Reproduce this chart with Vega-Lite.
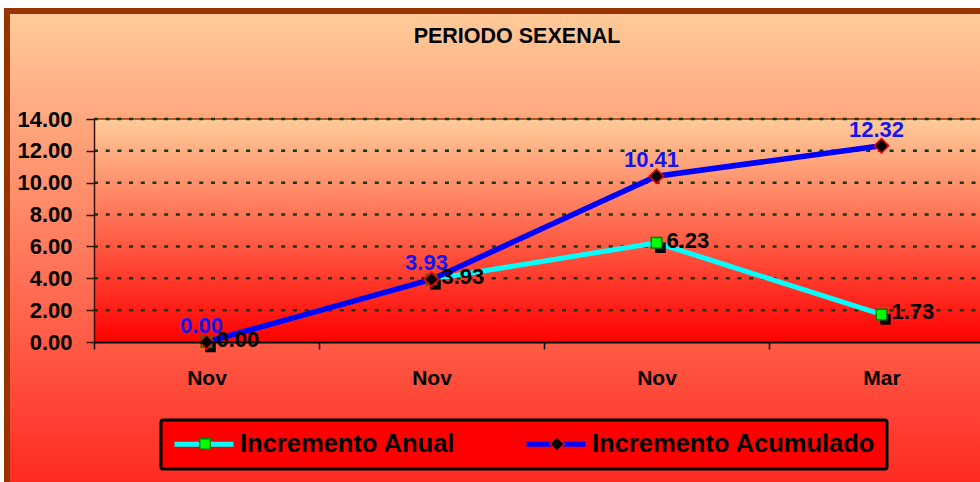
{
  "$schema": "https://vega.github.io/schema/vega-lite/v6.json",
  "width": 1020,
  "height": 480,
  "autosize": {"type": "none"},
  "padding": {"left": 7, "top": 11, "right": 0, "bottom": 0},
  "background": "#FFFFFF",
  "view": {
    "fill": {"gradient": "linear", "x1": 0, "y1": 0, "x2": 0, "y2": 1,
      "stops": [{"offset": 0, "color": "#FFCC99"}, {"offset": 1, "color": "#FF2820"}]},
    "stroke": "#993300",
    "strokeWidth": 6
  },
  "config": {"font": "Liberation Sans"},
  "title": {
    "text": "PERIODO SEXENAL",
    "font": "Liberation Sans",
    "fontSize": 21.5,
    "fontWeight": "bold",
    "color": "#000000",
    "anchor": "middle",
    "frame": "group",
    "baseline": "alphabetic",
    "offset": -53
  },
  "datasets": {
    "incrementos": [
      {"periodo": "Nov-1", "serie": "Incremento Anual", "valor": 0.00},
      {"periodo": "Nov-2", "serie": "Incremento Anual", "valor": 3.93},
      {"periodo": "Nov-3", "serie": "Incremento Anual", "valor": 6.23},
      {"periodo": "Mar-4", "serie": "Incremento Anual", "valor": 1.73},
      {"periodo": "Nov-1", "serie": "Incremento Acumulado", "valor": 0.00},
      {"periodo": "Nov-2", "serie": "Incremento Acumulado", "valor": 3.93},
      {"periodo": "Nov-3", "serie": "Incremento Acumulado", "valor": 10.41},
      {"periodo": "Mar-4", "serie": "Incremento Acumulado", "valor": 12.32}
    ],
    "rejilla": [
      {"valor": 2}, {"valor": 4}, {"valor": 6}, {"valor": 8},
      {"valor": 10}, {"valor": 12}, {"valor": 14}
    ]
  },
  "data": {"name": "incrementos"},
  "encoding": {
    "x": {
      "field": "periodo",
      "type": "nominal",
      "scale": {"type": "band", "domain": ["Nov-1", "Nov-2", "Nov-3", "Mar-4"], "range": [87, 987], "paddingInner": 0, "paddingOuter": 0},
      "axis": {
        "orient": "bottom",
        "offset": -149,
        "zindex": 1,
        "title": null,
        "labelAngle": 0,
        "labelExpr": "split(datum.label, '-')[0]",
        "labelFont": "Liberation Sans",
        "labelFontSize": 21,
        "labelFontWeight": "bold",
        "labelColor": "#000000",
        "labelPadding": 18,
        "tickBand": "extent",
        "tickSize": 7,
        "tickWidth": 1.5,
        "tickColor": "#000000",
        "domainColor": "#000000",
        "domainWidth": 2,
        "grid": false
      }
    },
    "y": {
      "field": "valor",
      "type": "quantitative",
      "scale": {"domain": [0, 14], "range": [331, 108], "nice": false, "zero": false},
      "axis": {
        "orient": "left",
        "offset": -87,
        "zindex": 1,
        "title": null,
        "values": [0, 2, 4, 6, 8, 10, 12, 14],
        "format": ".2f",
        "labelFont": "Liberation Sans",
        "labelFontSize": 22,
        "labelFontWeight": "bold",
        "labelColor": "#000000",
        "labelPadding": 14,
        "tickSize": 8,
        "tickWidth": 1.5,
        "tickColor": "#301000",
        "domainColor": "#301000",
        "domainWidth": 1.5,
        "grid": false
      }
    }
  },
  "layer": [
    {
      "transform": [{"filter": "datum.serie === 'Incremento Anual'"}],
      "mark": {
        "type": "rect",
        "fill": {"gradient": "linear", "x1": 0, "y1": 0, "x2": 0, "y2": 1,
          "stops": [{"offset": 0, "color": "#FFCC99"}, {"offset": 1, "color": "#FF0000"}]}
      },
      "encoding": {"y": {"datum": 0}, "y2": {"datum": 14}}
    },
    {
      "data": {"name": "rejilla"},
      "transform": [{"filter": "datum.valor === 14"}],
      "mark": {"type": "rule", "color": "#993300", "strokeWidth": 1.5},
      "encoding": {
        "x": {"datum": "Nov-1", "bandPosition": 0},
        "x2": {"datum": "Mar-4", "bandPosition": 1},
        "y": {"field": "valor", "type": "quantitative"}
      }
    },
    {
      "data": {"name": "rejilla"},
      "mark": {"type": "rule", "color": "#0F3A0F", "strokeWidth": 2.5, "strokeDash": [4, 7.7]},
      "encoding": {
        "x": {"datum": "Nov-1", "bandPosition": 0},
        "x2": {"datum": "Mar-4", "bandPosition": 1},
        "y": {"field": "valor", "type": "quantitative"}
      }
    },
    {
      "transform": [{"filter": "datum.serie === 'Incremento Anual'"}],
      "mark": {"type": "line", "strokeWidth": 5},
      "encoding": {
        "color": {
          "field": "serie",
          "type": "nominal",
          "scale": {"domain": ["Incremento Anual", "Incremento Acumulado"], "range": ["#00FFFF", "#0000FF"]},
          "legend": {
            "title": null,
            "orient": "none",
            "legendX": 154,
            "legendY": 409,
            "direction": "horizontal",
            "columns": 2,
            "gridAlign": "all",
            "columnPadding": 0,
            "padding": 11,
            "clipHeight": 26,
            "fillColor": "#FF0000",
            "strokeColor": "#000000",
            "cornerRadius": 2,
            "symbolType": "stroke",
            "symbolSize": 3481,
            "symbolStrokeWidth": 5,
            "labelFont": "Liberation Sans",
            "labelFontSize": 25.5,
            "labelFontWeight": "bold",
            "labelColor": "#000000",
            "labelOffset": 4,
            "labelLimit": 400,
            "encode": {"legend": {"update": {"strokeWidth": {"value": 3}}}}
          }
        }
      }
    },
    {
      "transform": [{"filter": "datum.serie === 'Incremento Acumulado'"}],
      "mark": {"type": "line", "strokeWidth": 5.5},
      "encoding": {
        "color": {"field": "serie", "type": "nominal"}
      }
    },
    {
      "transform": [{"filter": "datum.serie === 'Incremento Anual'"}],
      "mark": {"type": "point", "shape": "square", "filled": true, "color": "#000000", "size": 110, "xOffset": 4, "yOffset": 5, "opacity": 1}
    },
    {
      "mark": {"type": "point", "filled": true, "strokeWidth": 1.5, "opacity": 1},
      "encoding": {
        "shape": {
          "field": "serie", "type": "nominal", "sort": "descending",
          "scale": {"range": ["square", "diamond"]},
          "legend": {"title": null, "orient": "none", "legendX": 179, "legendY": 409, "direction": "horizontal", "columns": 2, "gridAlign": "all", "columnPadding": 336, "padding": 11, "clipHeight": 26, "fillColor": "transparent", "strokeColor": "transparent", "labelExpr": "''", "labelOffset": 0, "symbolStrokeWidth": 1.5}
        },
        "fill": {
          "field": "serie", "type": "nominal", "sort": "descending",
          "scale": {"range": ["#00FF00", "#000000"]},
          "legend": {"title": null, "orient": "none", "legendX": 179, "legendY": 409, "direction": "horizontal", "columns": 2, "gridAlign": "all", "columnPadding": 336, "padding": 11, "clipHeight": 26, "fillColor": "transparent", "strokeColor": "transparent", "labelExpr": "''", "labelOffset": 0, "symbolStrokeWidth": 1.5}
        },
        "stroke": {
          "field": "serie", "type": "nominal", "sort": "descending",
          "scale": {"range": ["#008000", "#FF0000"]},
          "legend": {"title": null, "orient": "none", "legendX": 179, "legendY": 409, "direction": "horizontal", "columns": 2, "gridAlign": "all", "columnPadding": 336, "padding": 11, "clipHeight": 26, "fillColor": "transparent", "strokeColor": "transparent", "labelExpr": "''", "labelOffset": 0, "symbolStrokeWidth": 1.5}
        },
        "size": {
          "field": "serie", "type": "ordinal", "sort": "descending",
          "scale": {"range": [110, 210]},
          "legend": {"title": null, "orient": "none", "legendX": 179, "legendY": 409, "direction": "horizontal", "columns": 2, "gridAlign": "all", "columnPadding": 336, "padding": 11, "clipHeight": 26, "fillColor": "transparent", "strokeColor": "transparent", "labelExpr": "''", "labelOffset": 0, "symbolStrokeWidth": 1.5}
        }
      }
    },
    {
      "transform": [{"filter": "datum.serie === 'Incremento Acumulado'"}],
      "mark": {"type": "text", "font": "Liberation Sans", "fontSize": 22, "fontWeight": "bold", "align": "center", "baseline": "alphabetic", "dx": -5, "dy": -9, "color": "#1414F0"},
      "encoding": {"text": {"field": "valor", "type": "quantitative", "format": ".2f"}}
    },
    {
      "transform": [{"filter": "datum.serie === 'Incremento Anual'"}],
      "mark": {"type": "text", "font": "Liberation Sans", "fontSize": 22, "fontWeight": "bold", "align": "left", "baseline": "alphabetic", "dx": 10, "dy": 5, "color": "#000000"},
      "encoding": {"text": {"field": "valor", "type": "quantitative", "format": ".2f"}}
    }
  ]
}
